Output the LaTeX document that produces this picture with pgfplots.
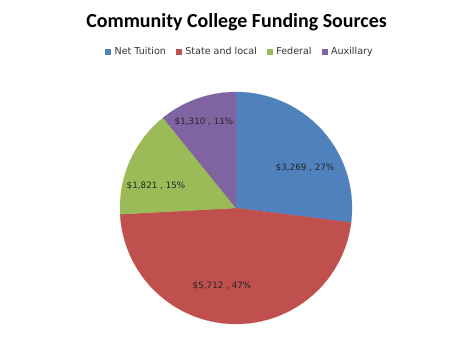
\documentclass[border=0pt]{standalone}
\usepackage{fontspec}
\setmainfont{DejaVu Sans}
\newfontfamily\titlefont{Carlito}
\usepackage{pgfplots}
\usepackage{pgfplotstable}
\pgfplotsset{compat=1.18}
\definecolor{cA}{HTML}{4F81BD}
\definecolor{cB}{HTML}{C0504D}
\definecolor{cC}{HTML}{9BBB59}
\definecolor{cD}{HTML}{8064A2}
\pgfplotstableread{
label value
NetTuition 3269
StateLocal 5712
Federal 1821
Auxillary 1310
}\pietable
\pgfplotstablegetelem{0}{value}\of\pietable \let\vA\pgfplotsretval
\pgfplotstablegetelem{1}{value}\of\pietable \let\vB\pgfplotsretval
\pgfplotstablegetelem{2}{value}\of\pietable \let\vC\pgfplotsretval
\pgfplotstablegetelem{3}{value}\of\pietable \let\vD\pgfplotsretval
\pgfmathsetmacro\tot{(\vA+\vB+\vC+\vD)/100}
\pgfmathsetmacro\aO{90}
\pgfmathsetmacro\aA{\aO-3.6*(\vA/\tot)}
\pgfmathsetmacro\aB{\aA-3.6*(\vB/\tot)}
\pgfmathsetmacro\aC{\aB-3.6*(\vC/\tot)}
\pgfmathsetmacro\aD{\aC-3.6*(\vD/\tot)}
\def\cx{236}
\def\cy{148}
\def\R{116}
\begin{document}
\begin{tikzpicture}
\begin{axis}[
  width=474bp, height=356bp, scale only axis,
  xmin=0, xmax=474, ymin=0, ymax=356,
  hide axis, clip=false,
  legend columns=4,
  legend style={draw=none, fill=none, at={(axis cs:240,304)}, anchor=center,
    font=\fontsize{9.6}{11}\selectfont, text=black!80,
    /tikz/every even column/.append style={column sep=8bp},
    /tikz/every odd column/.append style={column sep=2bp}},
  legend image code/.code={\fill[#1] (0bp,-2.6bp) rectangle (5.2bp,2.6bp);},
]
\path (axis cs:0,0) rectangle (axis cs:474,356);
\addplot[fill=cA, draw=cA, line width=0.2bp, domain=\aA:\aO, samples=90]
  ({\cx+\R*cos(x)},{\cy+\R*sin(x)}) -- (axis cs:\cx,\cy) -- cycle;
\addlegendentry{Net Tuition}
\addplot[fill=cB, draw=cB, line width=0.2bp, domain=\aB:\aA, samples=150]
  ({\cx+\R*cos(x)},{\cy+\R*sin(x)}) -- (axis cs:\cx,\cy) -- cycle;
\addlegendentry{State and local}
\addplot[fill=cC, draw=cC, line width=0.2bp, domain=\aC:\aB, samples=60]
  ({\cx+\R*cos(x)},{\cy+\R*sin(x)}) -- (axis cs:\cx,\cy) -- cycle;
\addlegendentry{Federal}
\addplot[fill=cD, draw=cD, line width=0.2bp, domain=\aD:\aC, samples=50]
  ({\cx+\R*cos(x)},{\cy+\R*sin(x)}) -- (axis cs:\cx,\cy) -- cycle;
\addlegendentry{Auxillary}
\node[anchor=base, font=\titlefont\bfseries\fontsize{20}{24}\selectfont] at (axis cs:236.5,328) {Community College Funding Sources};
\begin{scope}[every node/.style={font=\fontsize{8.8}{11}\selectfont, text=black!85}]
\node at (axis cs:305,188) {\$3,269 , 27\%};
\node at (axis cs:222,70) {\$5,712 , 47\%};
\node at (axis cs:156,170) {\$1,821 , 15\%};
\node at (axis cs:204,234) {\$1,310 , 11\%};
\end{scope}
\end{axis}
\end{tikzpicture}
\end{document}
